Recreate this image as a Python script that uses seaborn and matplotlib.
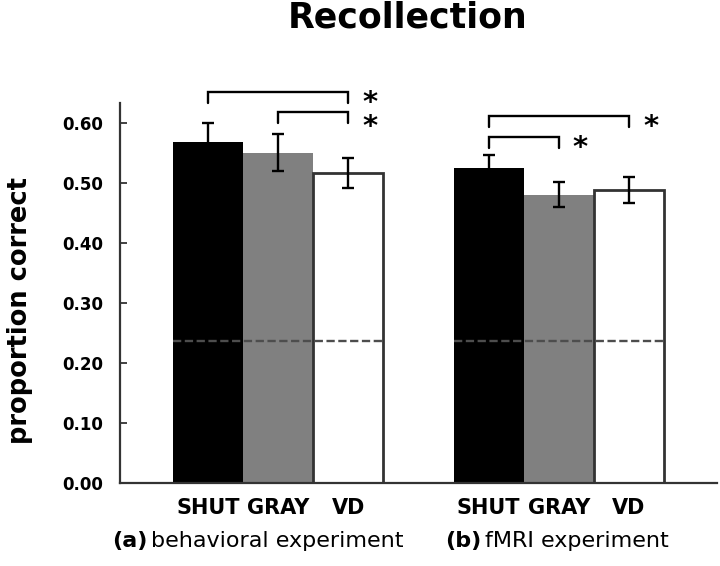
import numpy as np
import pandas as pd
import matplotlib
matplotlib.use("Agg")
import matplotlib.pyplot as plt
import seaborn as sns

# ---------------- data ----------------
conditions = ["SHUT", "GRAY", "VD"]
experiments = ["(a)", "(b)"]
exp_names = ["behavioral experiment", "fMRI experiment"]
values_a = [0.568, 0.550, 0.517]
errors_a = [0.032, 0.031, 0.025]
values_b = [0.525, 0.480, 0.488]
errors_b = [0.022, 0.021, 0.021]
chance_level = 0.237
y_ticks = [0.0, 0.1, 0.2, 0.3, 0.4, 0.5, 0.6]
# significance brackets: (experiment index, cond i, cond j, bracket top, label)
brackets = [
    (0, 0, 2, 0.652, "*"),
    (0, 1, 2, 0.618, "*"),
    (1, 0, 2, 0.612, "*"),
    (1, 0, 1, 0.577, "*"),
]

colors = {"SHUT": "#000000", "GRAY": "#808080", "VD": "#ffffff"}

# ---------------- table ----------------
rows = []
for exp, vals, errs in [(experiments[0], values_a, errors_a), (experiments[1], values_b, errors_b)]:
    for c, v, e in zip(conditions, vals, errs):
        rows.append({"slot": f"{exp} {c}", "cond": c, "value": v, "err": e})
df = pd.DataFrame(rows)
order = [f"{experiments[0]} {c}" for c in conditions] + ["gap"] + [f"{experiments[1]} {c}" for c in conditions]

# ---------------- figure ----------------
sns.set_style("white")
plt.rcParams["font.family"] = ["DejaVu Sans"]
for key in ["text.color", "axes.labelcolor", "xtick.color", "ytick.color"]:
    plt.rcParams[key] = "black"

fig = plt.figure(figsize=(7.2, 5.66), dpi=100)
ax = fig.add_axes([120 / 720, 1 - 483 / 566, (717 - 120) / 720, (483 - 103) / 566])

sns.barplot(data=df, x="slot", y="value", hue="cond", order=order,
            hue_order=conditions, palette=colors, dodge=False, width=1.0,
            errorbar=None, legend=False, ax=ax, saturation=1)

for p in ax.patches:
    fc = p.get_facecolor()
    if fc[0] > 0.95 and fc[1] > 0.95 and fc[2] > 0.95:
        p.set_edgecolor("#333333")
        p.set_linewidth(2.0)
    else:
        p.set_edgecolor(fc)
        p.set_linewidth(0)

pos = [order.index(s) for s in df["slot"]]
ax.errorbar(pos, df["value"], yerr=df["err"], fmt="none", ecolor="black",
            elinewidth=1.7, capsize=4.5, capthick=1.7, zorder=5)

# chance lines
for exp in experiments:
    idx = [order.index(f"{exp} {c}") for c in conditions]
    ax.hlines(chance_level, min(idx) - 0.5, max(idx) + 0.5, colors="#4d4d4d",
              linewidth=1.7, linestyles=(0, (3.5, 1.5)), zorder=4)

# brackets
leg = 0.019
stars = {}
for e, i, j, top, lab in brackets:
    xi = order.index(f"{experiments[e]} {conditions[i]}")
    xj = order.index(f"{experiments[e]} {conditions[j]}")
    ax.plot([xi, xi, xj, xj], [top - leg, top, top, top - leg], color="black",
            lw=1.7, clip_on=False, solid_joinstyle="miter", zorder=6)
    stars.setdefault((e, xj), []).append((top, lab))

for (e, xj), items in stars.items():
    items = sorted(items, reverse=True)
    text = "\n".join(lab for _, lab in items)
    ytop = items[0][0]
    ax.text(xj + 0.31, ytop + 0.004, text, ha="center", va="top", fontsize=21,
            fontweight="bold", linespacing=0.82, clip_on=False)

ax.set_xlim(-1.257, 7.257)
ax.set_ylim(0, 0.633)
ax.set_yticks(y_ticks)
ax.set_yticklabels([f"{t:.2f}" for t in y_ticks])
ax.set_xticks([order.index(s) for s in df["slot"]])
ax.set_xticklabels(list(df["cond"]))
ax.set_xlabel("")
ax.set_ylabel("")
ax.tick_params(axis="y", direction="in", length=5, width=1.3, color="#333333",
               labelsize=12, pad=12, left=True)
ax.tick_params(axis="x", length=0, labelsize=15, pad=11)
for lbl in ax.get_xticklabels() + ax.get_yticklabels():
    lbl.set_fontweight("bold")
sns.despine(ax=ax)
for s in ["left", "bottom"]:
    ax.spines[s].set_color("#333333")
    ax.spines[s].set_linewidth(1.6)

# titles and labels
fig.text(408 / 720, 1 - 28 / 566, "Recollection", ha="center", va="baseline",
         fontsize=25, fontweight="bold")
fig.text(20 / 720, 1 - 310 / 566, "proportion correct", rotation=90,
         ha="center", va="center", fontsize=18.5, fontweight="bold")

split_px = [147, 481]
for k in range(2):
    fig.text(split_px[k] / 720, 1 - 547 / 566, experiments[k], ha="right",
             va="baseline", fontsize=16, fontweight="bold")
    fig.text((split_px[k] + 4) / 720, 1 - 547 / 566, exp_names[k], ha="left",
             va="baseline", fontsize=16)

fig.savefig("out.png", dpi=100)
